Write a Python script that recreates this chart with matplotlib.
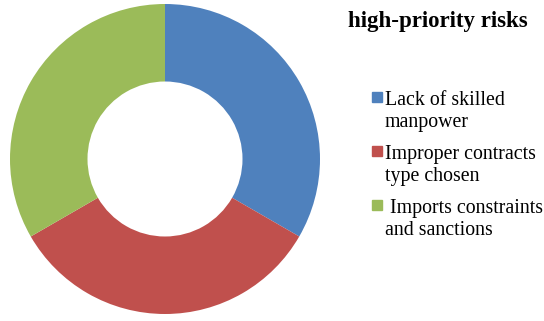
import matplotlib.pyplot as plt
from matplotlib.patches import Rectangle

# Data
labels = ["Lack of skilled\nmanpower",
          "Improper contracts\ntype chosen",
          " Imports constraints\nand sanctions"]
values = [1, 1, 1]
colors = ["#4F81BD", "#C0504D", "#9BBB59"]

plt.rcParams["font.family"] = ["Liberation Serif", "DejaVu Serif"]

W, H = 544, 321
fig = plt.figure(figsize=(W / 100, H / 100), dpi=100)

ax = fig.add_axes([10 / W, 7 / H, 310 / W, 310 / H])
wedges, _ = ax.pie(
    values,
    colors=colors,
    startangle=90,
    counterclock=False,
    radius=1.0,
    wedgeprops=dict(width=0.5, linewidth=0),
)
ax.set_xlim(-1, 1)
ax.set_ylim(-1, 1)
ax.set_aspect("equal")

fig.text(438 / W, 1 - 22 / H, "high-priority risks",
         ha="center", va="center", fontsize=16.5, fontweight="bold")

# legend drawn by hand so the marker sits on the first line
y0 = 100
step = 54
for i, (lab, col) in enumerate(zip(labels, colors)):
    y = y0 + i * step
    fig.patches.append(Rectangle((372 / W, 1 - (y + 2) / H), 10 / W, 10 / H,
                                 transform=fig.transFigure, color=col))
    fig.text(385 / W, 1 - (y - 9) / H, lab, ha="left", va="top",
             fontsize=14.3, linespacing=1.2)

fig.savefig("out.png", dpi=100)
